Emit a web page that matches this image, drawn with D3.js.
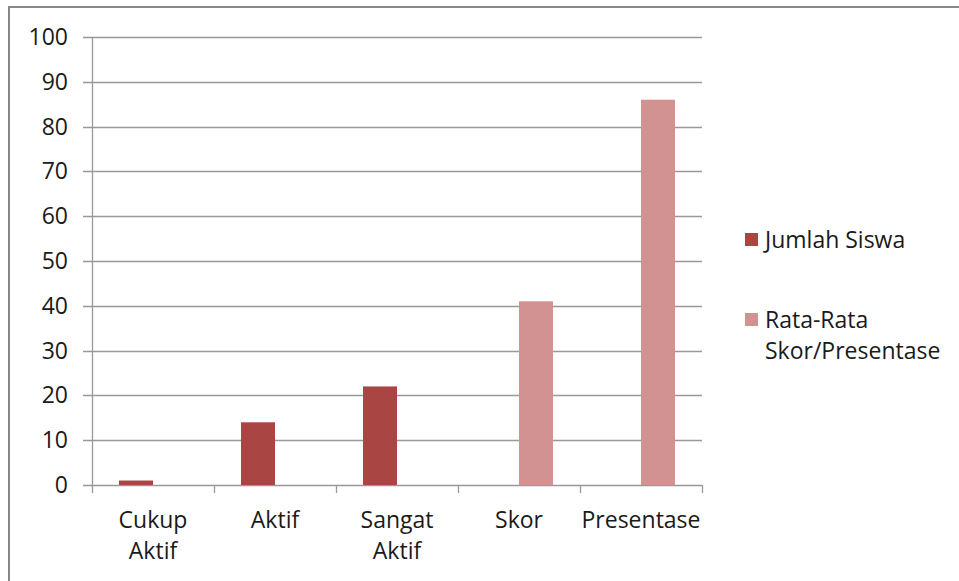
<!DOCTYPE html>
<html>
<head>
<meta charset="utf-8">
<script src="https://cdn.jsdelivr.net/npm/d3@7"></script>
<style>
  body { margin: 0; background: #fff; }
  svg text { font-family: "Open Sans", sans-serif; fill: #1a1a1a; }
</style>
</head>
<body>
<div id="chart"></div>
<script>
// chart values
const categories = ['Cukup Aktif', 'Aktif', 'Sangat Aktif', 'Skor', 'Presentase'];
const seriesNames = ['Jumlah Siswa', 'Rata-Rata Skor/Presentase'];
const jumlahSiswa = [1, 14, 22, null, null];
const rataRata = [null, null, null, 41, 86];
const yTicks = [0, 10, 20, 30, 40, 50, 60, 70, 80, 90, 100];
const colors = ['#A94543', '#D29291'];

const width = 959, height = 581;
const plot = { left: 92, right: 702, top: 37, bottom: 485 };
const fs = 23;

const svg = d3.select('#chart').append('svg')
  .attr('width', width)
  .attr('height', height);

// outer frame
svg.append('rect')
  .attr('x', 9).attr('y', 7)
  .attr('width', width).attr('height', height)
  .attr('fill', '#fff')
  .attr('stroke', '#868686')
  .attr('stroke-width', 2);

const x = d3.scaleBand().domain(categories).range([plot.left, plot.right]);
const x1 = d3.scaleBand().domain(seriesNames).range([0, x.bandwidth()]).paddingOuter(0.795);
const y = d3.scaleLinear().domain([0, 100]).range([plot.bottom, plot.top]);

// gridlines + y labels
svg.append('g').selectAll('line')
  .data(yTicks)
  .join('line')
  .attr('x1', plot.left - 9).attr('x2', plot.right)
  .attr('y1', d => Math.round(y(d)) + 0.5).attr('y2', d => Math.round(y(d)) + 0.5)
  .attr('stroke', '#999').attr('stroke-width', 1.3);

svg.append('g').selectAll('text')
  .data(yTicks)
  .join('text')
  .attr('x', 68)
  .attr('y', d => y(d))
  .attr('dy', '0.35em')
  .attr('text-anchor', 'end')
  .attr('font-size', fs)
  .text(d => d);

// y axis line
svg.append('line')
  .attr('x1', plot.left + 0.5).attr('x2', plot.left + 0.5)
  .attr('y1', plot.top).attr('y2', plot.bottom)
  .attr('stroke', '#999').attr('stroke-width', 1.3);

// x axis ticks
const xTickPos = categories.map(c => x(c)).concat([plot.right]);
svg.append('g').selectAll('line')
  .data(xTickPos)
  .join('line')
  .attr('x1', d => Math.round(d) + 0.5).attr('x2', d => Math.round(d) + 0.5)
  .attr('y1', plot.bottom).attr('y2', plot.bottom + 8)
  .attr('stroke', '#999').attr('stroke-width', 1.3);

// bars
const seriesData = [jumlahSiswa, rataRata];
seriesData.forEach((vals, si) => {
  svg.append('g').selectAll('rect')
    .data(categories.map((c, i) => ({ c, v: vals[i] })).filter(d => d.v != null))
    .join('rect')
    .attr('x', d => x(d.c) + x1(seriesNames[si]))
    .attr('width', x1.bandwidth())
    .attr('y', d => y(d.v))
    .attr('height', d => y(0) - y(d.v))
    .attr('fill', colors[si]);
});

// x labels (wrapped)
const xLabelLines = [['Cukup', 'Aktif'], ['Aktif'], ['Sangat', 'Aktif'], ['Skor'], ['Presentase']];
const xl = svg.append('g').selectAll('text')
  .data(categories)
  .join('text')
  .attr('text-anchor', 'middle')
  .attr('font-size', fs);
xl.each(function (c, i) {
  const t = d3.select(this);
  xLabelLines[i].forEach((ln, j) => {
    t.append('tspan')
      .attr('x', x(c) + x.bandwidth() / 2)
      .attr('y', 528 + j * 31)
      .text(ln);
  });
});

// legend
const legendLines = [['Jumlah Siswa'], ['Rata-Rata', 'Skor/Presentase']];
const legendY = [240, 320];
legendLines.forEach((lines, i) => {
  svg.append('rect')
    .attr('x', 745).attr('y', legendY[i] - 7)
    .attr('width', 13).attr('height', 13)
    .attr('fill', colors[i]);
  const t = svg.append('text').attr('font-size', fs);
  lines.forEach((ln, j) => {
    t.append('tspan')
      .attr('x', 765)
      .attr('y', legendY[i] + j * 31)
      .attr('dy', '0.35em')
      .text(ln);
  });
});
</script>
</body>
</html>
